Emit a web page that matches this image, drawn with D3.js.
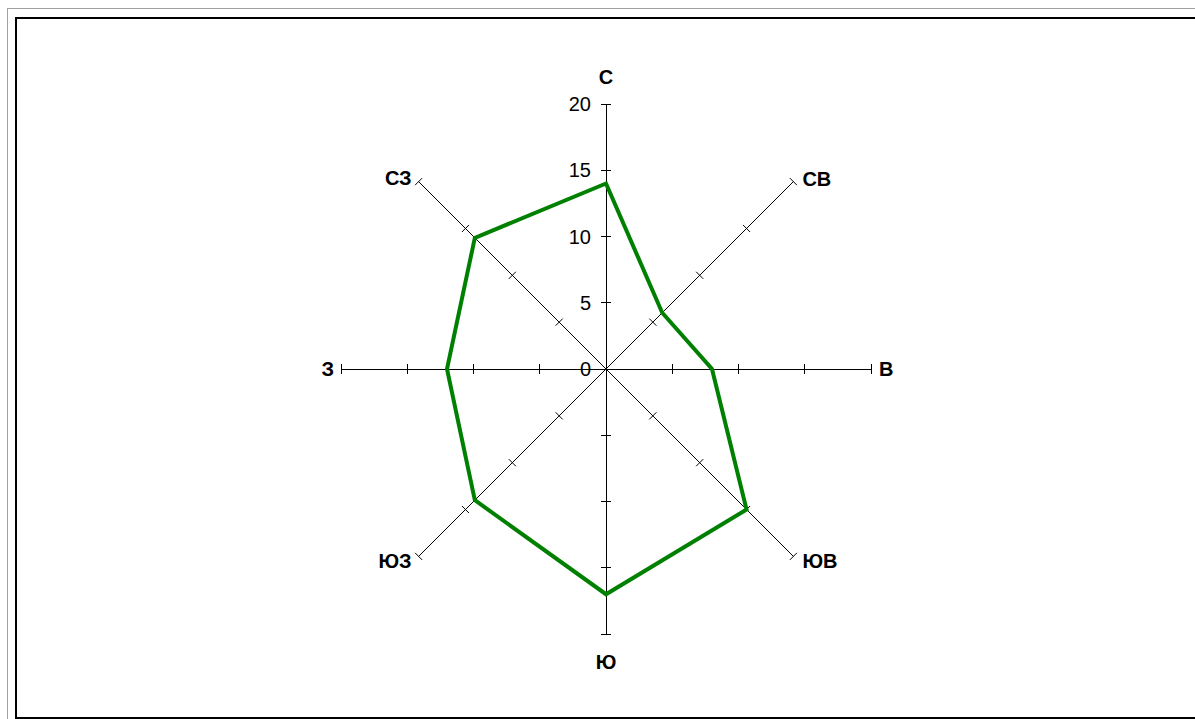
<!DOCTYPE html>
<html><head><meta charset="utf-8">
<script src="https://cdn.jsdelivr.net/npm/d3@7"></script>
<style>html,body{margin:0;padding:0;background:#fff;overflow:hidden}</style>
</head><body>
<svg id="c" width="1195" height="719"></svg>
<script>
const directions = ["С","СВ","В","ЮВ","Ю","ЮЗ","З","СЗ"];
const values = [14, 6, 8, 15, 17, 14, 12, 14];
const tickValues = [0, 5, 10, 15, 20];
const tickLabels = ["0","5","10","15","20"];

const svg = d3.select("#c");
// frames
svg.append("rect").attr("x",7.5).attr("y",8.5).attr("width",1200).attr("height",720)
  .attr("fill","none").attr("stroke","#a0a0a0").attr("stroke-width",1);
svg.append("rect").attr("x",16).attr("y",18).attr("width",1200).attr("height",700)
  .attr("fill","none").attr("stroke","#000").attr("stroke-width",2);

const cx = 606, cy = 369, R = 265;
const r = d3.scaleLinear().domain([0,20]).range([0,R]);
const ang = d3.scalePoint().domain(directions).range([0, 2*Math.PI*(7/8)]);
const pt = (a, v) => [cx + r(v)*Math.sin(a), cy - r(v)*Math.cos(a)];
const FONT = "Liberation Sans, Arial, sans-serif";

const g = svg.append("g");
directions.forEach(d => {
  const a = ang(d);
  const [x2,y2] = pt(a, 20);
  const crisp = (Math.round(a/(Math.PI/4)) % 2 === 0) ? "crispEdges" : "auto";
  g.append("line").attr("x1",cx).attr("y1",cy).attr("x2",x2).attr("y2",y2)
    .attr("stroke","#000").attr("stroke-width",1).attr("shape-rendering", crisp);
  tickValues.slice(1).forEach(t => {
    const [tx,ty] = pt(a, t);
    const px = Math.cos(a)*5, py = Math.sin(a)*5;
    g.append("line").attr("x1",tx-px).attr("y1",ty-py).attr("x2",tx+px).attr("y2",ty+py)
      .attr("stroke","#000").attr("stroke-width",1).attr("shape-rendering", crisp);
  });
});

// tick labels on north axis
tickValues.forEach((t,i) => {
  const [x,y] = pt(0, t);
  g.append("text").attr("x", x-15).attr("y", y).attr("dy","0.36em")
    .attr("text-anchor","end").attr("font-family",FONT)
    .attr("font-size",20).text(tickLabels[i]);
});

// direction labels
const labelPos = {
  "С":  {dx:0, dy:-27, anchor:"middle"},
  "СВ": {dx:9, dy:-3, anchor:"start"},
  "В":  {dx:8, dy:0, anchor:"start"},
  "ЮВ": {dx:9, dy:4, anchor:"start"},
  "Ю":  {dx:0, dy:28, anchor:"middle"},
  "ЮЗ": {dx:-7, dy:4, anchor:"end"},
  "З":  {dx:-7, dy:0, anchor:"end"},
  "СЗ": {dx:-7, dy:-4, anchor:"end"}
};
directions.forEach(d => {
  const [x,y] = pt(ang(d), 20);
  const p = labelPos[d];
  g.append("text").attr("x", x+p.dx).attr("y", y+p.dy).attr("dy","0.36em")
    .attr("text-anchor", p.anchor).attr("font-family",FONT)
    .attr("font-weight","bold").attr("font-size",20).text(d);
});

// data polygon
const line = d3.lineRadial().angle((d,i)=>ang(directions[i])).radius(d=>r(d)).curve(d3.curveLinearClosed);
g.append("path").attr("transform",`translate(${cx},${cy})`).attr("d", line(values))
  .attr("fill","none").attr("stroke","#008000").attr("stroke-width",4).attr("stroke-linejoin","miter");
</script>
</body></html>
